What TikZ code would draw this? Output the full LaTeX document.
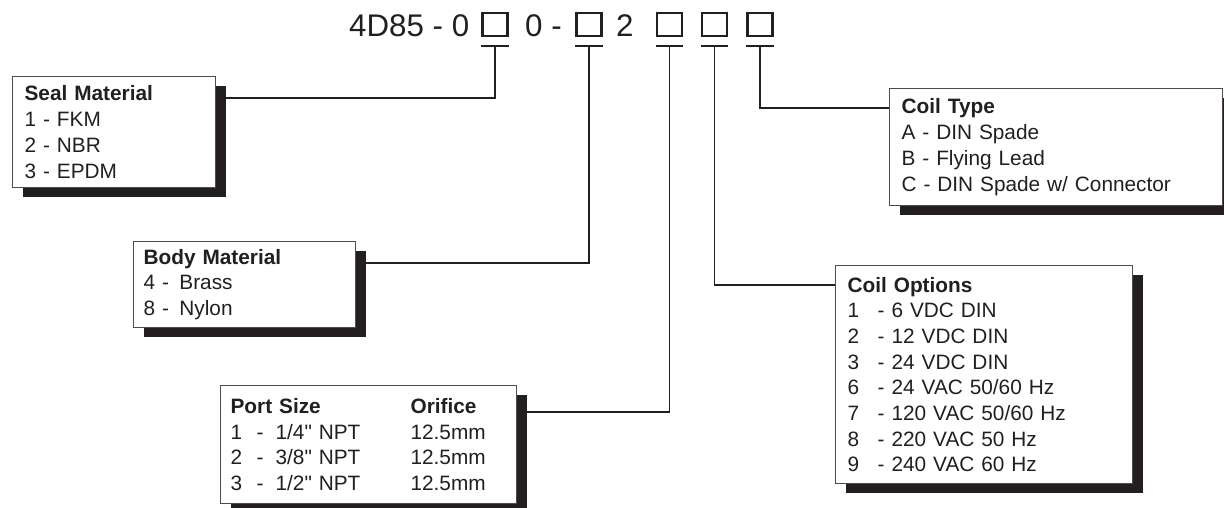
\documentclass[tikz,border=0pt]{standalone}
\usepackage{fontspec}
\setmainfont{Liberation Sans}[Ligatures=TeXOff]
\usetikzlibrary{shadows}
\definecolor{ink}{HTML}{231F20}

\newcommand{\portline}[3]{\makebox[180pt][l]{\makebox[26pt][l]{#1}\makebox[19pt][l]{-}#2}#3}
\newcommand{\coilline}[2]{\makebox[30pt][l]{#1}\makebox[14pt][l]{-}#2}

\begin{document}
\begin{tikzpicture}[x=1pt,y=-1pt,
    code/.style={font=\fontsize{31.3}{36}\selectfont, text=ink, inner sep=0pt, anchor=base west},
    sq/.style={draw=ink, line width=2.4pt, minimum width=25pt, minimum height=23pt, inner sep=0pt},
    bar/.style={draw=ink, line width=2.4pt},
    link/.style={draw=ink, line width=1.8pt},
    panel/.style={draw=ink!80, line width=1.2pt, fill=white, anchor=north west, align=left,
        inner xsep=12pt, inner ysep=0pt, text=ink, font=\fontsize{20.8}{25.7}\selectfont,
        general shadow={fill=ink, shadow xshift=10pt, shadow yshift=-9pt}}]

        \useasboundingbox (0,0) rectangle (1224,507);

        % Part number
        \node[code] (t1) at (349,36) {4D85 - 0};
        \node[code] (t2) at (525,36) {0 -};
        \node[code] (t3) at (616,36) {2};
        \node[sq] (sq1) at (495,24.5) {};
        \node[sq] (sq2) at (589,24.5) {};
        \node[sq] (sq3) at (669.5,24.5) {};
        \node[sq] (sq4) at (714.5,24.5) {};
        \node[sq] (sq5) at (760,24.5) {};

        % Option boxes
        \node[panel, text width=179pt, minimum height=111pt] (seal) at (12,76)
            {\textbf{Seal Material}\\1 - FKM\\2 - NBR\\3 - EPDM};
        \node[panel, inner xsep=10pt, text width=202pt, minimum height=86pt] (body) at (133,241)
            {\textbf{Body Material}\\4 - \,Brass\\8 - \,Nylon};
        \node[panel, inner xsep=10pt, text width=276pt, minimum height=118pt] (port) at (220,385)
            {\makebox[180pt][l]{\textbf{Port Size}}\textbf{Orifice}\\
             \portline{1}{1/4" NPT}{12.5mm}\\
             \portline{2}{3/8" NPT}{12.5mm}\\
             \portline{3}{1/2" NPT}{12.5mm}};
        \node[panel, text width=309pt, minimum height=117pt] (ctype) at (889,88)
            {\textbf{Coil Type}\\A - DIN Spade\\B - Flying Lead\\C - DIN Spade w/ Connector};
        \node[panel, text width=273pt, minimum height=218pt] (copt) at (835,265)
            {\textbf{Coil Options}\\\coilline{1}{6 VDC DIN}\\\coilline{2}{12 VDC DIN}\\
             \coilline{3}{24 VDC DIN}\\\coilline{6}{24 VAC 50/60 Hz}\\
             \coilline{7}{120 VAC 50/60 Hz}\\\coilline{8}{220 VAC 50 Hz}\\
             \coilline{9}{240 VAC 60 Hz}};

        % Ticks under the squares
        \draw[bar] ([yshift=-9pt]sq1.south west) -- ([yshift=-9pt]sq1.south east);
        \draw[bar] ([yshift=-9pt]sq2.south west) -- ([yshift=-9pt]sq2.south east);
        \draw[bar] ([yshift=-9pt]sq3.south west) -- ([yshift=-9pt]sq3.south east);
        \draw[bar] ([yshift=-9pt]sq4.south west) -- ([yshift=-9pt]sq4.south east);
        \draw[bar] ([yshift=-9pt]sq5.south west) -- ([yshift=-9pt]sq5.south east);

        % Leaders
        \draw[link] ([yshift=-9pt]sq1.south) |- ([yshift=-22pt]seal.north east);
        \draw[link] ([yshift=-9pt]sq2.south) |- ([yshift=-22pt]body.north east);
        \draw[link] ([yshift=-9pt]sq3.south) |- ([yshift=-27pt]port.north east);
        \draw[link] ([yshift=-9pt]sq4.south) |- ([yshift=-20pt]copt.north west);
        \draw[link] ([yshift=-9pt]sq5.south) |- ([yshift=-20pt]ctype.north west);

    \end{tikzpicture}
\end{document}
